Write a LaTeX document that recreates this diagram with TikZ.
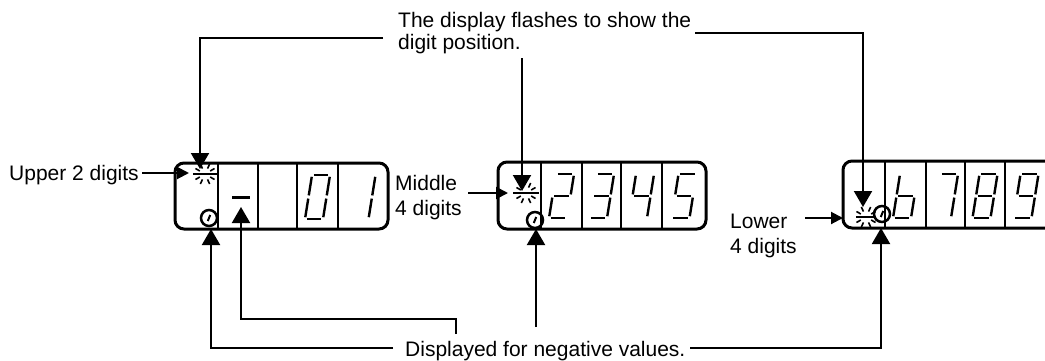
\documentclass[tikz,border=0pt]{standalone}
\usepackage{fontspec}
\setmainfont{Liberation Sans}
\usetikzlibrary{arrows.meta}
\def\segA{(1.8,-44)--(16.2,-44)}
\def\segB{(18,-42.2)--(18,-23.6)}
\def\segC{(18,-20.4)--(18,-1.8)}
\def\segD{(1.8,0)--(16.2,0)}
\def\segE{(0,-1.8)--(0,-20.4)}
\def\segF{(0,-23.6)--(0,-42.2)}
\def\segG{(1.8,-22)--(16.2,-22)}
\newcommand\sevdigit[3]{%
  \begin{scope}[shift={(#1,#2)},xslant=0.16]
    \foreach \s in {#3}{\edef\tmpseg{\noexpand\draw[seg] \csname seg\s\endcsname;}\tmpseg}
  \end{scope}}
\newcommand\flashmark[3]{%
  \draw[line width=1.8pt] (#1-#3,#2) -- (#1+#3,#2);
  \foreach \a in {-150,-115,-65,-30,30,65,115,150}
    {\draw[line width=1.6pt] ([shift={(\a:6)}]#1,#2) -- ([shift={(\a:11)}]#1,#2);}}
\newcommand\dpoint[2]{%
  \draw[line width=2.5pt] (#1,#2) circle[radius=8pt];
  \draw[line width=2pt] (#1-1.2,#2+3) -- (#1+1.2,#2-3);}
\begin{document}
\begin{tikzpicture}[x=1pt,y=-1pt,
  lbl/.style={inner sep=0pt,font=\fontsize{21}{25}\selectfont},
  conn/.style={line width=2pt},
  bigarrow/.style={conn,-{Triangle[width=18pt,length=16pt]}},
  smallarrow/.style={conn,-{Triangle[width=12pt,length=12pt]}},
  dispbox/.style={line width=3pt,rounded corners=9pt},
  divider/.style={line width=2.5pt},
  seg/.style={line width=2.4pt},
]
\clip (0,0) rectangle (1045,360);
\fill[white] (0,0) rectangle (1045,360);

% ---- displays
\draw[dispbox] (175,163) rectangle (388,229);
\foreach \x in {218,258,297,338} \draw[divider] (\x,163) -- (\x,229);
\draw[dispbox] (498,162) rectangle (706,229);
\foreach \x in {541,582,621,662} \draw[divider] (\x,162) -- (\x,229);
\draw[dispbox] (843,161) rectangle (1075,228);
\foreach \x in {885,926,965,1005} \draw[divider] (\x,161) -- (\x,228);

% digits
\draw[line width=3pt] (232,197.5) -- (250,197.5);
\sevdigit{305}{219}{A,B,C,D,E,F}
\sevdigit{350.5}{219}{B,C}
\sevdigit{549}{218}{A,B,G,E,D}
\sevdigit{589}{218}{A,B,G,C,D}
\sevdigit{629}{218}{F,G,B,C}
\sevdigit{671.5}{218}{A,F,G,C,D}
\sevdigit{893}{218}{F,E,G,C,D}
\sevdigit{933}{218}{A,B,C}
\sevdigit{972.5}{218}{A,B,C,D,E,F,G}
\sevdigit{1013.5}{218}{A,B,C,D,F,G}

% flash marks and points
\flashmark{205}{174}{12}
\flashmark{526}{193}{13}
\flashmark{866}{217}{10}
\dpoint{209}{218}
\dpoint{535}{220}
\dpoint{882}{214}

% ---- labels
\node[lbl,anchor=base west] (upper) at (9,180) {Upper 2 digits};
\node[lbl,anchor=base west] (middle) at (395,190) {Middle};
\node[lbl,anchor=base west] (middle2) at (395,215) {4 digits};
\node[lbl,anchor=base west] (lower) at (730,228) {Lower};
\node[lbl,anchor=base west] (lower2) at (730,253) {4 digits};
\node[lbl,anchor=base west] (flash) at (398,27) {The display flashes to show the};
\node[lbl,anchor=base west] (flash2) at (398,49) {digit position.};
\node[lbl,anchor=base west] (neg) at (405,356) {Displayed for negative values.};

% ---- connector end points
\coordinate (upS) at (142,173);   \coordinate (upT) at (189,173);
\coordinate (midS) at (468,193);  \coordinate (midT) at (508,193);
\coordinate (lowS) at (805,218);  \coordinate (lowT) at (843,218);
\coordinate (flA) at (383,38);    \coordinate (flAt) at (200,169);
\coordinate (flB) at (522,58);    \coordinate (flBt) at (522,191);
\coordinate (flC) at (695,33);    \coordinate (flCt) at (863,207);
\coordinate (ngA) at (393,348);   \coordinate (ngAt) at (211,229);
\coordinate (ngB) at (456,334);   \coordinate (ngBm) at (456,319);  \coordinate (ngBt) at (241,207);
\coordinate (ngC) at (536,327);   \coordinate (ngCt) at (536,229);
\coordinate (ngD) at (690,348);   \coordinate (ngDt) at (881,228);

\draw[smallarrow] (upS) -- (upT);
\draw[smallarrow] (midS) -- (midT);
\draw[smallarrow] (lowS) -- (lowT);
\draw[bigarrow] (flA) -| (flAt);
\draw[bigarrow] (flB) -- (flBt);
\draw[bigarrow] (flC) -| (flCt);
\draw[bigarrow] (ngA) -| (ngAt);
\draw[bigarrow] (ngB) -- (ngBm) -| (ngBt);
\draw[bigarrow] (ngC) -- (ngCt);
\draw[bigarrow] (ngD) -| (ngDt);
\end{tikzpicture}
\end{document}
